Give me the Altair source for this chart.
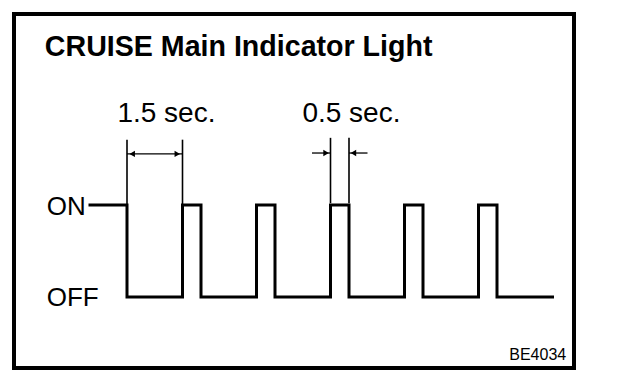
import altair as alt
import pandas as pd

# Square wave: time (s) and level (1 = ON, 0 = OFF), step-after
wave_t = [-1.0, 0.0, 1.5, 2.0, 3.5, 4.0, 5.5, 6.0, 7.5, 8.0, 9.5, 10.0, 11.5]
wave_v = [1, 0, 1, 0, 1, 0, 1, 0, 1, 0, 1, 0, 0]

# dimension annotations (seconds / level units)
ext_t = [0.0, 1.5, 5.5, 6.0]
ext_top = [1.71, 1.71, 1.73, 1.73]
ext_bot = [1.0, 1.0, 1.02, 1.02]
dim_x1 = [0.0, 5.0, 6.0]
dim_x2 = [1.5, 5.5, 6.5]
dim_y = [1.555, 1.565, 1.565]
head_t = [0.14, 1.36, 5.38, 6.12]
head_y = [1.555, 1.555, 1.565, 1.565]
head_shape = ["triangle-left", "triangle-right", "triangle-right", "triangle-left"]

labels = ["CRUISE Main Indicator Light", "1.5 sec.", "0.5 sec.", "ON", "OFF", "BE4034"]
label_t = [-2.22, -0.26, 4.74, -2.17, -2.17, 11.87]
label_y = [2.62, 1.90, 1.90, 0.98, -0.01, -0.685]
label_size = [28.6, 28, 28, 26, 26, 16]
label_weight = ["bold", "normal", "normal", "normal", "normal", "normal"]
label_align = ["left", "left", "left", "left", "left", "right"]
label_base = ["alphabetic", "alphabetic", "alphabetic", "middle", "middle", "alphabetic"]

X0, X1 = -113 / 37, (560 - 113) / 37
Y0, Y1 = (283 - 354) / 92, 283 / 92
xs = alt.Scale(domain=[X0, X1], nice=False, zero=False)
ys = alt.Scale(domain=[Y0, Y1], nice=False, zero=False)

wave = pd.DataFrame({"t": wave_t, "v": wave_v})
ext = pd.DataFrame({"t": ext_t, "top": ext_top, "bot": ext_bot})
dim = pd.DataFrame({"x1": dim_x1, "x2": dim_x2, "y": dim_y})
heads = pd.DataFrame({"t": head_t, "y": head_y, "shape": head_shape})

frame = alt.Chart(pd.DataFrame({"k": [0]})).mark_rect(
    fill=None, stroke="black", strokeWidth=4
).encode(x=alt.value(0), x2=alt.value(560), y=alt.value(0), y2=alt.value(354))

line = alt.Chart(wave).mark_line(interpolate="step-after", color="black", strokeWidth=3,
                                 strokeJoin="miter", strokeCap="square").encode(
    x=alt.X("t:Q", scale=xs, axis=None),
    y=alt.Y("v:Q", scale=ys, axis=None),
)

ext_rules = alt.Chart(ext).mark_rule(color="black", strokeWidth=1.6).encode(
    x=alt.X("t:Q", scale=xs, axis=None),
    y=alt.Y("top:Q", scale=ys, axis=None),
    y2="bot:Q",
)

dim_rules = alt.Chart(dim).mark_rule(color="black", strokeWidth=1.3).encode(
    x=alt.X("x1:Q", scale=xs, axis=None),
    x2="x2:Q",
    y=alt.Y("y:Q", scale=ys, axis=None),
)

head_layers = []
for shp in ["triangle-left", "triangle-right"]:
    head_layers.append(
        alt.Chart(heads[heads["shape"] == shp]).mark_point(
            shape=shp, filled=True, color="black", size=40, opacity=1
        ).encode(
            x=alt.X("t:Q", scale=xs, axis=None),
            y=alt.Y("y:Q", scale=ys, axis=None),
        )
    )

text_layers = []
for i, lab in enumerate(labels):
    df = pd.DataFrame({"t": [label_t[i]], "y": [label_y[i]], "label": [lab]})
    text_layers.append(
        alt.Chart(df).mark_text(
            font="Liberation Sans", fontSize=label_size[i], fontWeight=label_weight[i],
            align=label_align[i], baseline=label_base[i], color="black"
        ).encode(
            x=alt.X("t:Q", scale=xs, axis=None),
            y=alt.Y("y:Q", scale=ys, axis=None),
            text="label:N",
        )
    )

chart = alt.layer(frame, line, ext_rules, dim_rules, *head_layers, *text_layers).properties(
    width=560, height=354,
    padding={"left": 6, "top": 6, "right": 6, "bottom": 6},
    autosize=alt.AutoSizeParams(type="none"),
    background="white",
).configure_view(strokeWidth=0)

chart.save("out.html", embed_options={"renderer": "svg", "actions": False})
